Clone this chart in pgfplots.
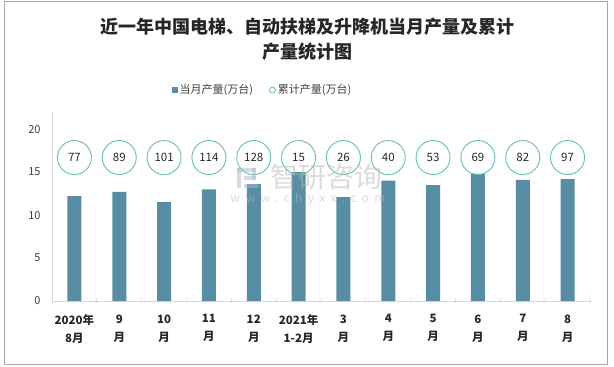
\documentclass[border=0pt]{standalone}
\usepackage{fontspec}
\setmainfont{Noto Sans CJK SC}
\usepackage{pgfplots}
\pgfplotsset{compat=1.18}
\definecolor{barc}{HTML}{588DA6}
\definecolor{circc}{HTML}{62BFB5}
\definecolor{axc}{HTML}{D9D9D9}
\definecolor{brd}{HTML}{A6A6A6}
\definecolor{txt}{HTML}{404040}
\definecolor{wm}{HTML}{B8B8B8}
\definecolor{wmb}{HTML}{A8B8D4}
\begin{document}
\begin{tikzpicture}
\path (0bp,0bp) rectangle (614bp,-367bp);
\draw[brd, line width=1bp] (4bp,-1.5bp) rectangle (607.5bp,-364bp);
\node[font=\fontsize{18bp}{25bp}\selectfont\bfseries, align=center, text=black!85] at (307bp,-39.5bp) {近一年中国电梯、自动扶梯及升降机当月产量及累计\\产量统计图};
\begin{axis}[
  at={(52bp,-301bp)}, anchor=south west,
  scale only axis, width=538bp, height=189bp,
  xmin=-0.5, xmax=11.5, ymin=0, ymax=22,
  ytick={0,5,10,15,20},
  xtick={0,...,11},
  xticklabels={{2020年\\8月},{9\\月},{10\\月},{11\\月},{12\\月},{2021年\\1-2月},{3\\月},{4\\月},{5\\月},{6\\月},{7\\月},{8\\月}},
  minor xtick={-0.5,0.5,...,11.5},
  major tick length=0pt, minor tick length=4bp, tick align=outside,
  minor x tick style={draw=axc, line width=0.8bp},
  axis lines=left, axis line style={-, draw=axc, line width=0.8bp},
  /pgf/number format/assume math mode=true,
  yticklabel style={font=\fontsize{11bp}{13bp}\selectfont, text=txt, xshift=-8bp},
  xticklabel style={font=\fontsize{11.5bp}{18bp}\selectfont\bfseries, text=black!85, align=center, yshift=-10bp},
  legend style={at={(0.222,1.116)}, anchor=west, draw=none, fill=none, legend columns=2,
    font=\fontsize{11bp}{12bp}\selectfont, text=txt,
    /tikz/every even column/.append style={column sep=14bp}, inner sep=0pt},
  clip=false,
]
\addplot[ybar, bar width=14bp, bar shift=0pt, fill=barc, draw=none,
  legend image code/.code={\fill[barc] (0,-3bp) rectangle (6bp,3bp);}]
  coordinates {(0,12.2) (1,12.7) (2,11.5) (3,13.0) (4,13.6) (5,15.0) (6,12.1) (7,14.0) (8,13.5) (9,14.8) (10,14.1) (11,14.2)};
\addlegendentry{当月产量(万台)}
\addplot[only marks, mark=o, mark size=17bp, draw=circc, mark options={line width=0.9bp},
  nodes near coords, point meta=explicit symbolic,
  every node near coord/.append style={anchor=center, font=\fontsize{11.5bp}{13bp}\selectfont, text=black!85},
  legend image code/.code={\draw[circc, line width=0.8bp] (3bp,0) circle (3bp);}]
  coordinates {(0,16.7) [77] (1,16.7) [89] (2,16.7) [101] (3,16.7) [114] (4,16.7) [128] (5,16.7) [15] (6,16.7) [26] (7,16.7) [40] (8,16.7) [53] (9,16.7) [69] (10,16.7) [82] (11,16.7) [97]};
\addlegendentry{累计产量(万台)}
\end{axis}
% watermark
\begin{scope}[opacity=0.5]
\fill[wmb] (237bp,-168bp) rectangle (256bp,-172bp);
\fill[wmb] (237bp,-168bp) rectangle (241bp,-188bp);
\fill[wmb] (244bp,-176bp) rectangle (256bp,-180bp);
\fill[wmb] (252bp,-168bp) rectangle (256bp,-180bp);
\fill[wmb] (244bp,-184bp) rectangle (258bp,-188bp);
\node[text=wm, font=\fontsize{28bp}{30bp}\selectfont] at (326bp,-177bp) {智研咨询};
\node[text=wm, font=\fontsize{12bp}{14bp}\selectfont\addfontfeature{LetterSpace=45}] at (308bp,-199bp) {www.chyxx.com};
\end{scope}
\end{tikzpicture}
\end{document}
